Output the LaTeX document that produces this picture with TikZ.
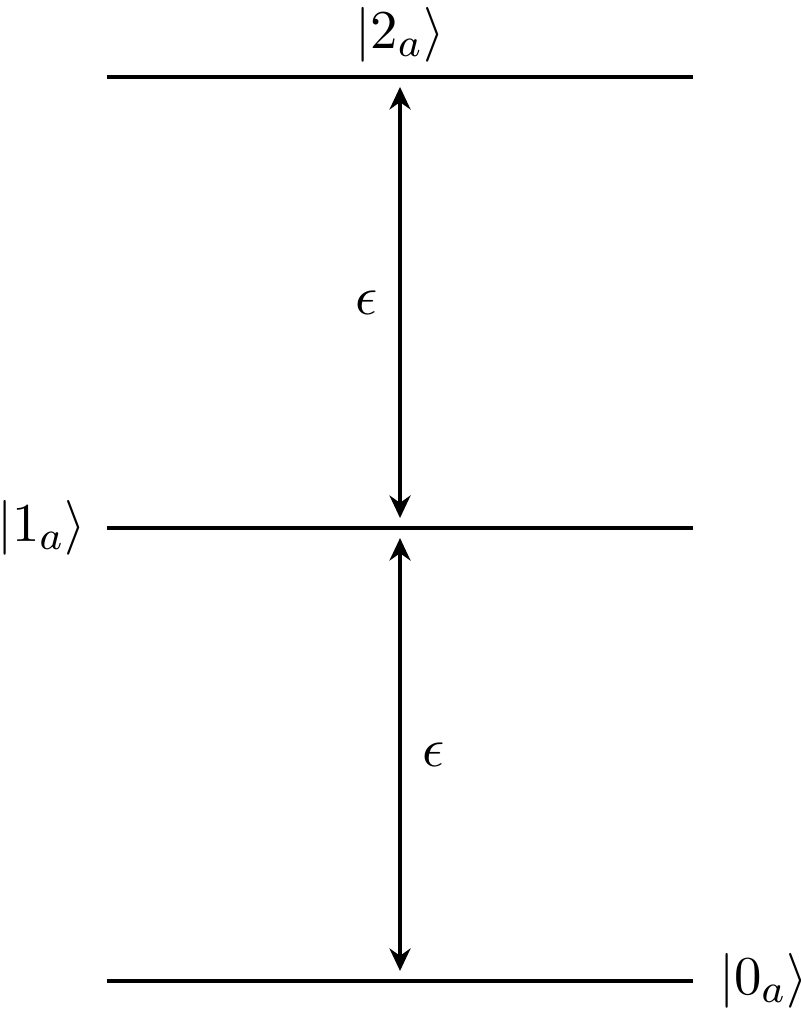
\documentclass[tikz,border=0pt]{standalone}
\usepackage{amsmath, amssymb}
\usetikzlibrary{arrows.meta,positioning}

\begin{document}
\begin{tikzpicture}[
    level/.style={thick},
    gap/.style={thick, <->, shorten >=2pt, shorten <=2pt},
    every node/.style={inner sep=0pt, font=\fontsize{10.95}{13.6}\selectfont},
    >={Stealth[length=4.5pt,width=4.2pt]}  % small heads
]
    \useasboundingbox (0,0) rectangle (5.624,7.100);

    \foreach \n/\y in {0/0.204,1/3.388,2/6.559}{
        \coordinate (w\n) at (0.752,\y);
        \coordinate (m\n) at (2.812,\y);
        \coordinate (e\n) at (4.872,\y);
        \draw[level] (w\n) -- (e\n);
    }

    \node (k2) [above=2.8pt of m2] {$\left|2_a\right\rangle$};
    \node (k1) [left=4pt of w1] {$\left|1_a\right\rangle$};
    \node (k0) [right=5pt of e0] {$\left|0_a\right\rangle$};

    \draw[gap] (m2) -- (m1) node[midway,left=4pt] (eps1) {$\epsilon$};
    \draw[gap] (m1) -- (m0) node[midway,right=4pt] (eps0) {$\epsilon$};
\end{tikzpicture}
\end{document}
